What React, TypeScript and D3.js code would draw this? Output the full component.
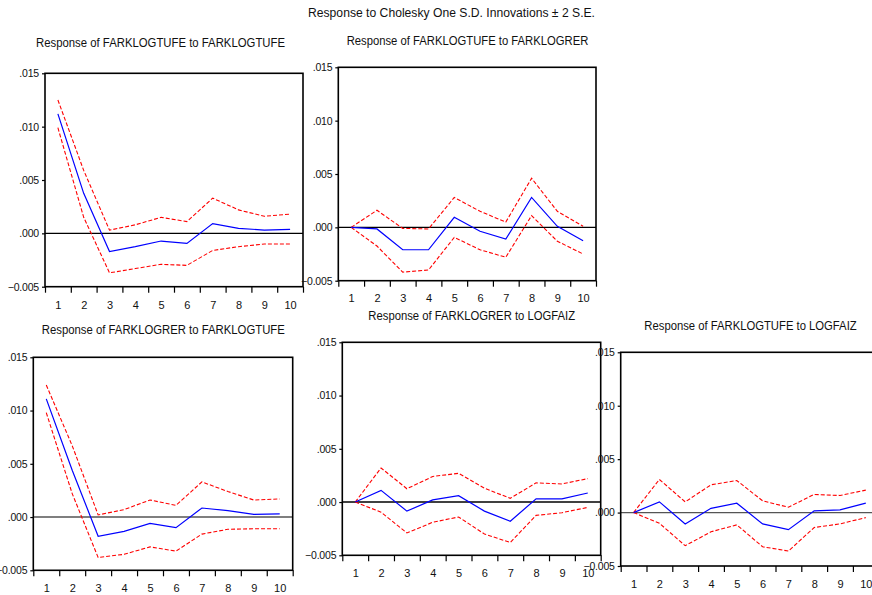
import React, { useEffect, useRef } from "react";
import * as d3 from "d3";

const periods = [1, 2, 3, 4, 5, 6, 7, 8, 9, 10];
const yTicks = [-0.005, 0, 0.005, 0.01, 0.015];

const mainTitle = "Response to Cholesky One S.D. Innovations ± 2 S.E.";

const panelTitles = [
  "Response of FARKLOGTUFE to FARKLOGTUFE",
  "Response of FARKLOGTUFE to FARKLOGRER",
  "Response of FARKLOGRER to FARKLOGTUFE",
  "Response of FARKLOGRER to LOGFAIZ",
  "Response of FARKLOGTUFE to LOGFAIZ",
];

// impulse responses (blue) and +/- 2 S.E. bands (red dashed)
const tufeTufeResp = [0.0112, 0.00375, -0.0017, -0.00125, -0.00072, -0.00094, 0.00091, 0.00047, 0.00031, 0.00038];
const tufeTufeUpper = [0.0125, 0.0059, 0.0003, 0.0008, 0.0015, 0.0011, 0.0033, 0.0022, 0.0016, 0.0018];
const tufeTufeLower = [0.0099, 0.0015, -0.0037, -0.0033, -0.0029, -0.003, -0.0016, -0.00125, -0.001, -0.001];

const tufeRerResp = [0, -0.00015, -0.0021, -0.0021, 0.00094, -0.00037, -0.0011, 0.0028, 0.0001, -0.00125];
const tufeRerUpper = [0, 0.0016, -0.0001, -0.00015, 0.0028, 0.0015, 0.0005, 0.0046, 0.0015, 0.0001];
const tufeRerLower = [0, -0.00175, -0.0042, -0.004, -0.00094, -0.0021, -0.0028, 0.0011, -0.0013, -0.0025];

const rerTufeResp = [0.0111, 0.0044, -0.0018, -0.00135, -0.0006, -0.001, 0.00085, 0.0006, 0.00025, 0.0003];
const rerTufeUpper = [0.0124, 0.0067, 0.0002, 0.0007, 0.0016, 0.0011, 0.0033, 0.0024, 0.0016, 0.0017];
const rerTufeLower = [0.0098, 0.0022, -0.0038, -0.0035, -0.0028, -0.0032, -0.0016, -0.00115, -0.0011, -0.0011];

const rerFaizResp = [0, 0.0011, -0.00085, 0.0002, 0.0006, -0.00085, -0.0018, 0.0003, 0.0003, 0.00085];
const rerFaizUpper = [0, 0.0032, 0.00125, 0.0024, 0.0027, 0.0013, 0.00035, 0.0018, 0.0017, 0.0022];
const rerFaizLower = [0, -0.00095, -0.0029, -0.0019, -0.0014, -0.003, -0.0038, -0.00125, -0.001, -0.0005];

const tufeFaizResp = [0, 0.001, -0.00106, 0.0004, 0.00088, -0.00106, -0.0016, 0.00016, 0.00025, 0.00088];
const tufeFaizUpper = [0, 0.0031, 0.001, 0.0026, 0.003, 0.0011, 0.0005, 0.0017, 0.0016, 0.0021];
const tufeFaizLower = [0, -0.001, -0.0031, -0.0018, -0.00115, -0.0032, -0.0036, -0.0014, -0.00106, -0.00047];

const FONT = "'Liberation Sans Narrow', 'Arial Narrow', 'Liberation Sans', Arial, sans-serif";

// strip the leading zero like EViews does: .015, -.005
const fmt = (v: number) => {
  const s = d3.format(".3f")(Math.abs(v) < 1e-12 ? 0 : v);
  return s.replace(/^(-?)0\./, "$1.");
};

function App() {
  const ref = useRef<SVGSVGElement>(null);

  useEffect(() => {
    const svg = d3.select(ref.current);
    svg.selectAll("*").remove();

    const series = [
      [tufeTufeResp, tufeTufeUpper, tufeTufeLower],
      [tufeRerResp, tufeRerUpper, tufeRerLower],
      [rerTufeResp, rerTufeUpper, rerTufeLower],
      [rerFaizResp, rerFaizUpper, rerFaizLower],
      [tufeFaizResp, tufeFaizUpper, tufeFaizLower],
    ];

    // panel boxes
    const layout = [
      { left: 45, right: 303, top: 73.3, bottom: 286.7, tx: 160.5, ty: 47, tw: 249, zero: "#000", pad: 15 },
      { left: 338.3, right: 596, top: 67.3, bottom: 280.7, tx: 467.5, ty: 45, tw: 241.7, zero: "#000", pad: 13.5 },
      { left: 33.3, right: 292.7, top: 357.3, bottom: 570.3, tx: 163.3, ty: 334, tw: 243, zero: "#555", pad: 13.5 },
      { left: 342.3, right: 600.7, top: 342.3, bottom: 555.3, tx: 471.7, ty: 319.5, tw: 206.7, zero: "#000", pad: 14 },
      { left: 620.7, right: 878.7, top: 352.3, bottom: 566, tx: 750.5, ty: 330, tw: 212.3, zero: "#555", pad: 14 },
    ];

    svg.append("text")
      .attr("x", 451.5)
      .attr("y", 17)
      .attr("text-anchor", "middle")
      .attr("font-family", FONT)
      .attr("font-size", 12.5)
      .attr("textLength", 287)
      .attr("lengthAdjust", "spacingAndGlyphs")
      .attr("fill", "#111")
      .text(mainTitle);

    layout.forEach((L, i) => {
      const g = svg.append("g");
      const [resp, upper, lower] = series[i];

      const x = d3.scaleLinear().domain([0.5, 10.5]).range([L.left, L.right]);
      const y = d3.scaleLinear().domain([-0.005, 0.015]).range([L.bottom, L.top]);

      g.append("text")
        .attr("x", L.tx)
        .attr("y", L.ty)
        .attr("text-anchor", "middle")
        .attr("font-family", FONT)
        .attr("font-size", 12)
        .attr("textLength", L.tw)
        .attr("lengthAdjust", "spacingAndGlyphs")
        .attr("fill", "#111")
        .text(panelTitles[i]);

      // y axis
      const ya = g.append("g")
        .attr("transform", `translate(${L.left},0)`)
        .call(d3.axisLeft(y).tickValues(yTicks).tickSize(3).tickPadding(3).tickFormat((d) => fmt(+d)));
      ya.select(".domain").remove();
      ya.selectAll(".tick text").attr("font-size", 10.5).attr("letter-spacing", -0.2);

      // x axis: ticks on the period boundaries, labels in the middle
      const xb = g.append("g")
        .attr("transform", `translate(0,${L.bottom})`)
        .call(d3.axisBottom(x).tickValues(d3.range(0.5, 11, 1)).tickSize(6).tickFormat(() => ""));
      xb.select(".domain").remove();
      const xl = g.append("g")
        .attr("transform", `translate(0,${L.bottom})`)
        .call(d3.axisBottom(x).tickValues(periods).tickSize(0).tickPadding(L.pad).tickFormat(d3.format("d")));
      xl.select(".domain").remove();
      xl.selectAll(".tick text").attr("font-size", 11);

      g.selectAll(".tick text")
        .attr("font-family", FONT)
        .attr("fill", "#111");
      g.selectAll(".tick line").attr("stroke", "#000").attr("stroke-width", 1.2);

      // zero line
      g.append("line")
        .attr("x1", L.left)
        .attr("x2", L.right)
        .attr("y1", y(0))
        .attr("y2", y(0))
        .attr("stroke", L.zero)
        .attr("stroke-width", 1.4);

      const line = d3.line<number>()
        .x((_, j) => x(periods[j]))
        .y((d) => y(d));

      [upper, lower].forEach((band) => {
        g.append("path")
          .attr("d", line(band))
          .attr("fill", "none")
          .attr("stroke", "#ff0000")
          .attr("stroke-width", 1.1)
          .attr("stroke-dasharray", "4,2");
      });

      g.append("path")
        .attr("d", line(resp))
        .attr("fill", "none")
        .attr("stroke", "#0000ff")
        .attr("stroke-width", 1.2);

      // frame
      g.append("rect")
        .attr("x", L.left)
        .attr("y", L.top)
        .attr("width", L.right - L.left)
        .attr("height", L.bottom - L.top)
        .attr("fill", "none")
        .attr("stroke", "#000")
        .attr("stroke-width", 1.6);
    });
  }, []);

  return (
    <svg
      ref={ref}
      width={872}
      height={595}
      style={{ position: "absolute", left: 0, top: 0, background: "#fff" }}
    />
  );
}

export default App;
